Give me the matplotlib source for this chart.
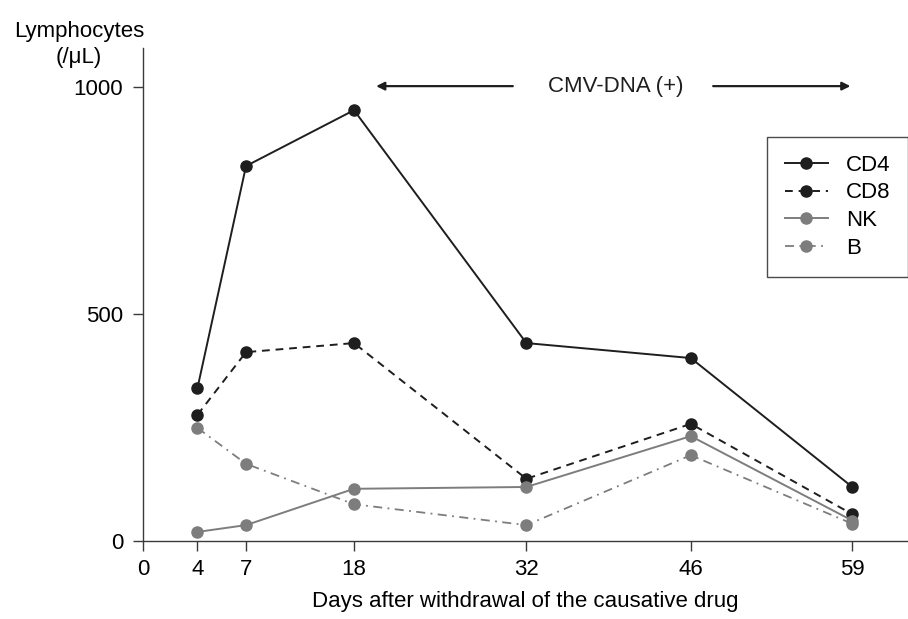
import numpy as np
import matplotlib
matplotlib.use('Agg')
import matplotlib.pyplot as plt

plt.rcParams['font.family'] = ['Liberation Sans', 'DejaVu Sans']

# Datos
days = [4, 7, 18, 32, 46, 59]
cd4 = [337, 826, 949, 436, 403, 119]
cd8 = [278, 416, 436, 137, 258, 59]
nk = [20, 35, 115, 119, 231, 45]
b_cells = [249, 170, 81, 35, 189, 38]

xticks = [0, 4, 7, 18, 32, 46, 59]
yticks = [0, 500, 1000]

# Eje x no lineal (dibujado a mano en el original)
knot_days = np.array([-10, 0, 4, 7, 18, 32, 46, 59, 80])
knot_pos = np.array([-137.5, 0, 55, 104, 213, 387, 553, 716, 978.5])

def forward(x):
    return np.interp(x, knot_days, knot_pos)

def inverse(p):
    return np.interp(p, knot_pos, knot_days)

BLACK = '#1e1e1e'
GRAY = '#7d7d7d'
AXC = '#3a3a3a'

fig = plt.figure(figsize=(9.08, 6.19), dpi=100)
ax = fig.add_axes([143 / 908, 78 / 619, 1 - 143 / 908, (541 - 48) / 619])
ax.set_xscale('function', functions=(forward, inverse))

ax.plot(days, cd4, color=BLACK, lw=1.4, marker='o', ms=8, label='CD4')
ax.plot(days, cd8, color=BLACK, lw=1.4, ls=(0, (4, 3)), marker='o', ms=8, label='CD8')
ax.plot(days, nk, color=GRAY, lw=1.4, marker='o', ms=8, label='NK')
ax.plot(days, b_cells, color=GRAY, lw=1.3, ls=(0, (5, 3, 1, 3)), marker='o', ms=8, label='B')

ax.set_xlim(0, 63.5)
ax.set_ylim(0, 1086)
ax.set_xticks(xticks)
ax.set_yticks(yticks)
ax.tick_params(direction='out', length=7.2, width=1, color=AXC, labelsize=16, pad=6)
ax.tick_params(axis='y', pad=7)
for side in ['top', 'right']:
    ax.spines[side].set_visible(False)
for side in ['left', 'bottom']:
    ax.spines[side].set_color(AXC)
    ax.spines[side].set_linewidth(1)

ax.set_xlabel('Days after withdrawal of the causative drug', fontsize=16, labelpad=8)
fig.text(79 / 908, 1 - 21 / 619, 'Lymphocytes\n(/\u03bcL)', ha='center', va='top',
         fontsize=16, linespacing=1.3, transform=fig.transFigure)

# Periodo CMV-DNA positivo
arrow = dict(arrowstyle='-|>', color=BLACK, lw=1.6, mutation_scale=12, shrinkA=0, shrinkB=0)
ax.annotate('', xy=(19.8, 1002), xytext=(30.9, 1002), arrowprops=arrow)
ax.annotate('', xy=(58.85, 1002), xytext=(47.8, 1002), arrowprops=arrow)
ax.text(39.6, 1002, 'CMV-DNA (+)', ha='center', va='center', fontsize=16, color=BLACK)

leg = ax.legend(loc='upper left', bbox_to_anchor=(767 / 908, 1 - 137 / 619),
                bbox_transform=fig.transFigure, fontsize=16, frameon=True,
                fancybox=False, edgecolor=BLACK, borderpad=0.8, handlelength=1.95,
                handletextpad=0.8, labelspacing=0.3, borderaxespad=0)
leg.get_frame().set_linewidth(1)

fig.savefig('out.png', dpi=100)
